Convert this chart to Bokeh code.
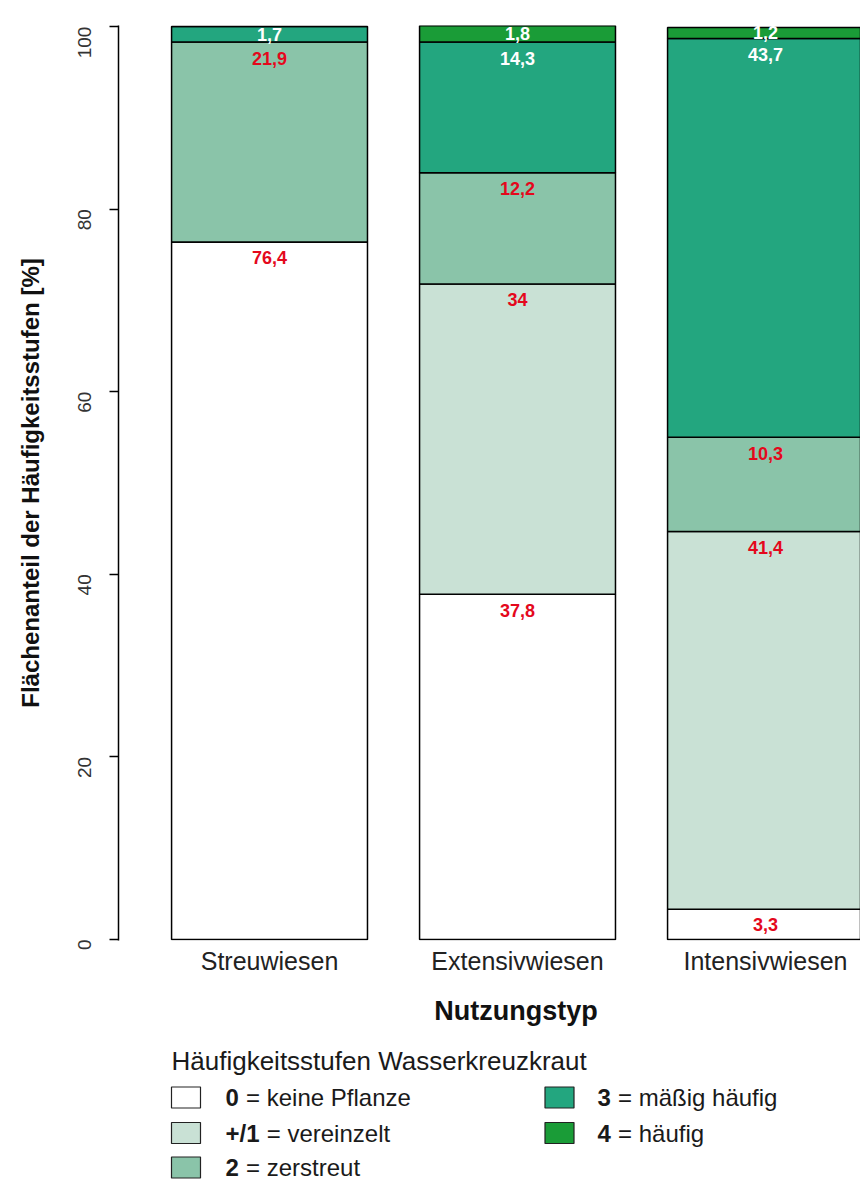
import math
from bokeh.plotting import figure
from bokeh.models import Range1d, FixedTicker, ColumnDataSource
from bokeh.layouts import column
from bokeh.core.properties import value
from bokeh.embed import file_html
from bokeh.resources import INLINE

# ---------------- data ----------------
categories = ["Streuwiesen", "Extensivwiesen", "Intensivwiesen"]
level_codes = ["0", "+/1", "2", "3", "4"]
level_names = ["keine Pflanze", "vereinzelt", "zerstreut", "mäßig häufig", "häufig"]
level_colors = ["#FFFFFF", "#C9E1D5", "#8AC4A9", "#23A67F", "#1A9C37"]
label_colors = ["#E4081C", "#E4081C", "#E4081C", "#FFFFFF", "#FFFFFF"]
share_0 = [76.4, 37.8, 3.3]
share_1 = [0.0, 34.0, 41.4]
share_2 = [21.9, 12.2, 10.3]
share_3 = [1.7, 14.3, 43.7]
share_4 = [0.0, 1.8, 1.2]
y_ticks = [0, 20, 40, 60, 80, 100]
x_title = "Nutzungstyp"
y_title = "Flächenanteil der Häufigkeitsstufen [%]"
legend_title = "Häufigkeitsstufen Wasserkreuzkraut"

shares = [share_0, share_1, share_2, share_3, share_4]
FONT = "Liberation Sans"
W = 860
LEFT = 118

def fmt(v):
    return f"{v:g}".replace(".", ",")

# ---------------- main chart ----------------
xpos = list(range(len(categories)))
src = ColumnDataSource(dict(x=xpos, **{f"s{j}": s for j, s in enumerate(shares)}))

p = figure(width=W, height=990,
           x_range=Range1d(-0.609, 2.383), y_range=Range1d(-0.12, 100.12),
           output_backend="svg", toolbar_location=None,
           min_border_left=LEFT, min_border_right=0,
           min_border_top=25, min_border_bottom=50)
p.outline_line_color = None
p.xgrid.visible = False
p.ygrid.visible = False
p.background_fill_color = "white"
p.border_fill_color = "white"

p.vbar_stack([f"s{j}" for j in range(len(shares))], x="x", width=0.79,
             color=level_colors, line_color="black", line_width=1.5, source=src)

lx, ly, lt, lc = [], [], [], []
for i in xpos:
    base = 0.0
    for j, s in enumerate(shares):
        v = s[i]
        top = base + v
        if v > 0:
            lx.append(i)
            ly.append(top - min(1.75, v / 2))
            lt.append(fmt(v))
            lc.append(label_colors[j])
        base = top
p.text(x="x", y="y", text="t", text_color="c",
       source=ColumnDataSource(dict(x=lx, y=ly, t=lt, c=lc)),
       text_align="center", text_baseline="middle",
       text_font=value(FONT), text_font_style="bold", text_font_size="18px")

# y axis
ya = p.yaxis[0]
ya.ticker = FixedTicker(ticks=y_ticks)
ya.minor_tick_line_color = None
ya.major_tick_in = 0
ya.major_tick_out = 9
ya.major_tick_line_width = 1.5
ya.axis_line_width = 1.5
ya.axis_line_color = "black"
ya.major_tick_line_color = "black"
ya.major_label_orientation = math.pi / 2
ya.major_label_standoff = 25
ya.major_label_text_font = FONT
ya.major_label_text_font_size = "19px"
ya.major_label_text_color = "#333333"
ya.axis_label = y_title
ya.axis_label_text_font = FONT
ya.axis_label_text_font_style = "bold"
ya.axis_label_text_font_size = "24px"
ya.axis_label_text_color = "#111111"
ya.axis_label_standoff = 25

# x axis (category labels only)
xa = p.xaxis[0]
xa.ticker = FixedTicker(ticks=xpos)
xa.major_label_overrides = {i: c for i, c in enumerate(categories)}
xa.axis_line_color = None
xa.major_tick_line_color = None
xa.minor_tick_line_color = None
xa.major_tick_out = 0
xa.major_tick_in = 0
xa.major_label_standoff = 6
xa.major_label_text_font = FONT
xa.major_label_text_font_size = "25px"
xa.major_label_text_color = "#222222"

# ---------------- x title + legend (pixel-mapped panel) ----------------
TOP2, H2 = 990, 192
lg = figure(width=W, height=H2, x_range=Range1d(LEFT, W), y_range=Range1d(TOP2 + H2, TOP2),
            x_axis_type=None, y_axis_type=None, output_backend="svg",
            toolbar_location=None, min_border_left=LEFT, min_border_right=0,
            min_border_top=0, min_border_bottom=0)
lg.outline_line_color = None
lg.xgrid.visible = False
lg.ygrid.visible = False

lg.text(x=[515.5], y=[1010], text=[x_title], text_font=value(FONT), text_font_style="bold",
        text_font_size="27px", text_color="#111111", text_align="center",
        text_baseline="middle")
lg.text(x=[171], y=[1060], text=[legend_title], text_font=value(FONT),
        text_font_size="26px", text_color="#1a1a1a", text_baseline="middle")

bold_w = {"0": .556, "1": .556, "2": .556, "3": .556, "4": .556, "+": .584, "/": .278}
fs = 24
col_rect_x = [185.5, 559]
col_text_x = [225, 597]
row_mid = [1097, 1132.5, 1167]
rx, ry, rc, cx, cy, ct, tx, ty, tt = [], [], [], [], [], [], [], [], []
for k, (code, name, color) in enumerate(zip(level_codes, level_names, level_colors)):
    col, row = k // 3, k % 3
    rx.append(col_rect_x[col]); ry.append(row_mid[row]); rc.append(color)
    cx.append(col_text_x[col]); cy.append(row_mid[row]); ct.append(code)
    w = sum(bold_w[ch] for ch in code) * fs + 0.3 * fs
    tx.append(col_text_x[col] + w); ty.append(row_mid[row]); tt.append("= " + name)

lg.rect(x=rx, y=ry, width=29, height=21, fill_color=rc, line_color="#222222", line_width=1.2)
lg.text(x=cx, y=cy, text=ct, text_font=value(FONT), text_font_style="bold",
        text_font_size=f"{fs}px", text_color="#1a1a1a", text_baseline="middle")
lg.text(x=tx, y=ty, text=tt, text_font=value(FONT),
        text_font_size=f"{fs}px", text_color="#1a1a1a", text_baseline="middle")

layout = column(p, lg, spacing=0)
open("out.html", "w").write(file_html(layout, INLINE))
